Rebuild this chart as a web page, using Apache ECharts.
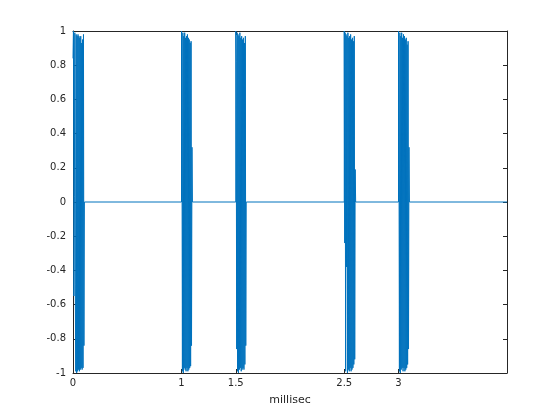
<!DOCTYPE html>
<html>
<head>
<meta charset="utf-8">
<script src="https://cdn.jsdelivr.net/npm/echarts@6/dist/echarts.min.js"></script>
<style>html,body{margin:0;padding:0;background:#fff}#c{width:560px;height:420px}</style>
</head>
<body>
<div id="c"></div>
<script>
// Data
const xTicks = [0, 1, 1.5, 2.5, 3];
const burstStarts = [0, 1, 1.5, 2.5, 3];   // ms
const sampleStep = 0.0042;                  // ms between samples
const burst0 = [0.84, 1.0, -0.55, 0.03, 0.99, -0.48, -0.99, 0.98, -1.0, 0.97, -0.99, 0.98, -0.98, 0.97, -0.99, 0.96, -0.98, 0.97, -0.97, 0.93, -0.98, 0.95, -0.97, 0.98, -0.84];
const burst1 = [1.0, 0.42, -0.99, 0.99, -1.0, 0.97, -0.97, 0.99, -0.98, 0.96, -0.99, 0.97, -0.97, 0.98, -0.99, 0.96, -0.98, 0.95, -0.97, 0.93, -0.96, 0.94, -0.84, 0.32];
const burst2 = [1.0, 0.82, -0.86, 0.99, -0.99, 0.98, -1.0, 0.97, -0.98, 0.99, -0.97, 0.96, -0.99, 0.97, -0.98, 0.95, -0.97, 0.96, -0.98, 0.93, -0.95, 0.97, -0.84, 0.0];
const burst3 = [1.0, -0.24, 0.99, -0.99, 0.98, -0.38, 0.97, -1.0, 0.99, -0.98, 0.96, -0.99, 0.97, -0.97, 0.98, -0.99, 0.95, -0.98, 0.96, -0.97, 0.94, -0.95, 0.97, -0.92, 0.19];
const burst4 = [1.0, 0.42, -0.99, 0.99, -1.0, 0.97, -0.98, 0.99, -0.97, 0.96, -0.99, 0.98, -0.97, 0.97, -0.99, 0.95, -0.98, 0.96, -0.97, 0.92, -0.95, 0.94, -0.86, 0.32];
const bursts = [burst0, burst1, burst2, burst3, burst4];
const xMax = 4;

const data = [];
bursts.forEach((b, k) => {
  const s = burstStarts[k];
  if (k > 0) data.push([s, 0]);
  b.forEach((v, i) => data.push([s + i * sampleStep, v]));
  data.push([s + b.length * sampleStep, 0]);
});
data.push([xMax, 0]);

const txt = '#262626';
const axisLine = {show: true, onZero: false, lineStyle: {color: txt, width: 1}};
const chart = echarts.init(document.getElementById('c'), null, {renderer: 'canvas'});
chart.setOption({
  animation: false,
  backgroundColor: '#fff',
  grid: {left: 73, right: 53, top: 31, bottom: 47, containLabel: false},
  xAxis: [{
    type: 'value', min: 0, max: xMax, position: 'bottom',
    name: 'millisec', nameLocation: 'middle', nameGap: 22,
    nameTextStyle: {color: txt, fontSize: 11, fontFamily: 'DejaVu Sans'},
    axisLine: axisLine,
    axisTick: {show: true, inside: true, length: 4, customValues: xTicks, lineStyle: {color: txt}},
    axisLabel: {customValues: xTicks, color: txt, fontSize: 10, fontFamily: 'DejaVu Sans', margin: 5},
    splitLine: {show: false}
  }, {
    type: 'value', min: 0, max: xMax, position: 'top',
    axisLine: axisLine,
    axisTick: {show: true, inside: true, length: 4, customValues: xTicks, lineStyle: {color: txt}},
    axisLabel: {show: false},
    splitLine: {show: false}
  }],
  yAxis: [{
    type: 'value', min: -1, max: 1, interval: 0.2, position: 'left',
    axisLine: axisLine,
    axisTick: {show: true, inside: true, length: 4, lineStyle: {color: txt}},
    axisLabel: {color: txt, fontSize: 10, fontFamily: 'DejaVu Sans', margin: 7,
      formatter: v => String(Math.round(v * 10) / 10)},
    splitLine: {show: false}
  }, {
    type: 'value', min: -1, max: 1, interval: 0.2, position: 'right',
    axisLine: axisLine,
    axisTick: {show: true, inside: true, length: 4, lineStyle: {color: txt}},
    axisLabel: {show: false},
    splitLine: {show: false}
  }],
  series: [{
    type: 'line', data: data, xAxisIndex: 0, yAxisIndex: 0,
    showSymbol: false, symbol: 'none', sampling: null,
    lineStyle: {color: '#0072BD', width: 1},
    z: 1
  }]
});
</script>
</body>
</html>
